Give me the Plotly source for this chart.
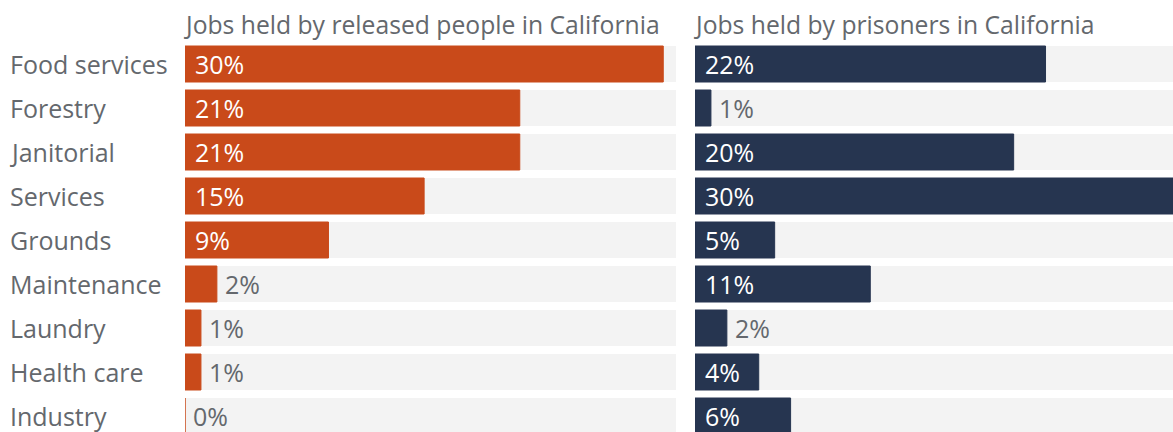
import plotly.graph_objects as go

# Job categories, top to bottom
categories = ["Food services", "Forestry", "Janitorial", "Services", "Grounds",
              "Maintenance", "Laundry", "Health care", "Industry"]
# Share of jobs (%) for each group
released_pct = [30, 21, 21, 15, 9, 2, 1, 1, 0]
prisoner_pct = [22, 1, 20, 30, 5, 11, 2, 4, 6]
panel_titles = ["Jobs held by released people in California",
                "Jobs held by prisoners in California"]

W, H = 1173, 432
FONT = "Open Sans"
GRAY_TEXT = "#64686d"
TRACK = "#f3f3f3"
ORANGE = "#c94a1a"
NAVY = "#263550"

ROW_TOP = 64      # pixel centre of first row
ROW_STEP = 44     # pixel spacing between rows
BAR_PX = 36

rows = list(range(len(categories)))
y_top = -ROW_TOP / ROW_STEP
y_bot = (H - ROW_TOP) / ROW_STEP

left_dom = [185 / W, 676 / W]
right_dom = [695 / W, 1.0]
left_max = 30.8
right_max = 30.0

fig = go.Figure()

panels = [
    (released_pct, ORANGE, "x", left_max),
    (prisoner_pct, NAVY, "x2", right_max),
]

for vals, color, xa, xmax in panels:
    # light track behind each bar
    fig.add_trace(go.Bar(
        x=[left_max] * len(rows), y=rows, orientation="h",
        marker=dict(color=TRACK, line=dict(width=0)),
        width=BAR_PX / ROW_STEP, xaxis=xa, yaxis="y",
        hoverinfo="skip", showlegend=False,
    ))
    fig.add_trace(go.Bar(
        x=vals, y=rows, orientation="h",
        marker=dict(color=color, line=dict(color=color, width=1)),
        width=BAR_PX / ROW_STEP, xaxis=xa, yaxis="y",
        showlegend=False,
    ))

annotations = []
for vals, xa, in [(released_pct, "x"), (prisoner_pct, "x2")]:
    for i, v in zip(rows, vals):
        inside = v >= 4
        annotations.append(dict(
            x=0 if inside else v, y=i, xref=xa, yref="y",
            text=f"{v}%", showarrow=False, xanchor="left", yanchor="middle",
            xshift=8 if inside else 6, yshift=0,
            font=dict(family=FONT, size=25,
                      color="white" if inside else GRAY_TEXT),
        ))

for i, name in zip(rows, categories):
    annotations.append(dict(
        x=8 / W, y=i, xref="paper", yref="y", text=name, showarrow=False,
        xanchor="left", yanchor="middle", yshift=0,
        font=dict(family=FONT, size=25, color=GRAY_TEXT),
    ))

for dom, title in zip([left_dom, right_dom], panel_titles):
    annotations.append(dict(
        x=dom[0], y=1 - 24 / H, xref="paper", yref="paper", text=title,
        showarrow=False, xanchor="left", yanchor="middle", xshift=-3,
        font=dict(family=FONT, size=24.7, color=GRAY_TEXT),
    ))

fig.update_layout(
    width=W, height=H,
    margin=dict(l=0, r=0, t=0, b=0),
    paper_bgcolor="white", plot_bgcolor="white",
    barmode="overlay",
    xaxis=dict(domain=left_dom, range=[0, left_max], visible=False, fixedrange=True),
    xaxis2=dict(domain=right_dom, range=[0, right_max], visible=False, fixedrange=True),
    yaxis=dict(range=[y_bot, y_top], visible=False, fixedrange=True),
    annotations=annotations,
    showlegend=False,
)

fig.write_html("out.html", config={"displayModeBar": False})
